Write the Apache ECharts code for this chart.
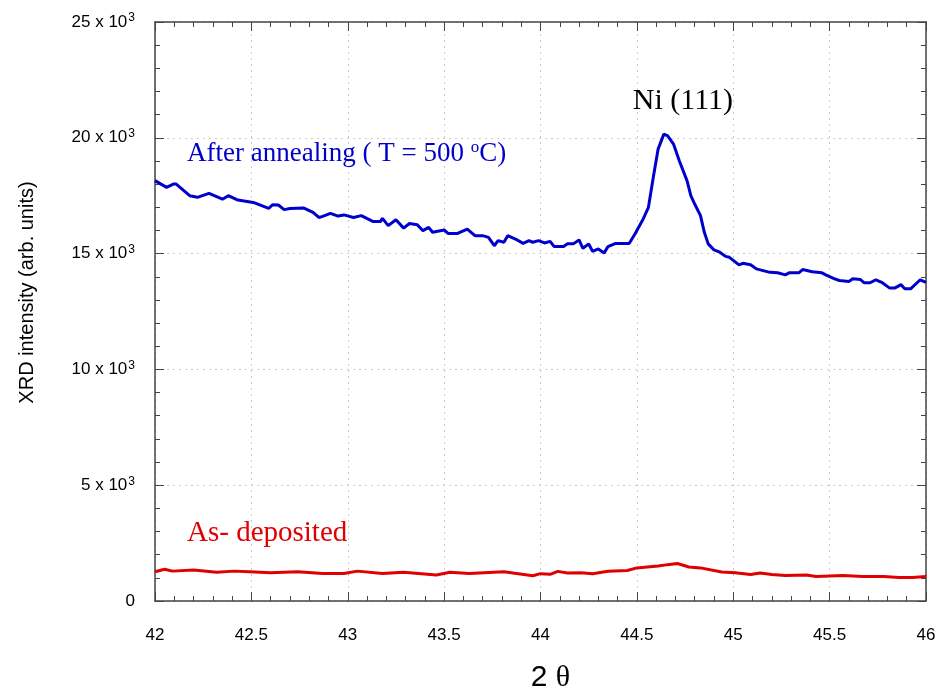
<!DOCTYPE html>
<html>
<head>
<meta charset="utf-8">
<script src="https://cdn.jsdelivr.net/npm/echarts@6/dist/echarts.min.js"></script>
<style>
  html, body { margin: 0; padding: 0; background: #fff; }
  #chart { width: 938px; height: 689px; }
</style>
</head>
<body>
<div id="chart"></div>
<script>
// 退火后 (blue)
const annealTheta = [42.00, 42.06, 42.095, 42.11, 42.18, 42.22, 42.28, 42.35, 42.38, 42.43, 42.51, 42.59, 42.61, 42.64, 42.67, 42.70, 42.77, 42.82, 42.85, 42.87, 42.91, 42.95, 42.98, 43.03, 43.07, 43.13, 43.17, 43.18, 43.21, 43.25, 43.29, 43.32, 43.36, 43.39, 43.42, 43.44, 43.50, 43.52, 43.57, 43.62, 43.66, 43.70, 43.73, 43.76, 43.78, 43.81, 43.83, 43.87, 43.91, 43.94, 43.96, 43.99, 44.02, 44.05, 44.07, 44.12, 44.14, 44.17, 44.20, 44.22, 44.25, 44.27, 44.30, 44.33, 44.35, 44.39, 44.46, 44.49, 44.53, 44.56, 44.585, 44.61, 44.64, 44.66, 44.69, 44.72, 44.76, 44.78, 44.80, 44.83, 44.85, 44.87, 44.90, 44.93, 44.96, 44.98, 45.03, 45.05, 45.09, 45.12, 45.19, 45.23, 45.27, 45.29, 45.34, 45.36, 45.41, 45.46, 45.48, 45.52, 45.55, 45.60, 45.62, 45.66, 45.68, 45.71, 45.74, 45.77, 45.81, 45.84, 45.87, 45.89, 45.92, 45.97, 46.00]
const annealCounts = [18150, 17860, 18000, 18000, 17500, 17430, 17600, 17350, 17500, 17310, 17210, 16950, 17110, 17100, 16900, 16950, 16970, 16780, 16560, 16610, 16740, 16620, 16670, 16560, 16640, 16390, 16390, 16520, 16210, 16460, 16100, 16300, 16250, 15990, 16130, 15920, 16020, 15870, 15870, 16060, 15775, 15775, 15700, 15340, 15560, 15490, 15775, 15630, 15440, 15560, 15490, 15560, 15460, 15530, 15310, 15310, 15420, 15420, 15590, 15230, 15420, 15100, 15200, 15030, 15300, 15440, 15440, 15850, 16450, 17000, 18290, 19510, 20160, 20080, 19730, 19010, 18150, 17500, 17140, 16640, 15920, 15420, 15160, 15060, 14880, 14840, 14510, 14580, 14520, 14340, 14190, 14170, 14080, 14170, 14170, 14310, 14220, 14170, 14080, 13930, 13840, 13800, 13910, 13880, 13740, 13740, 13870, 13760, 13520, 13520, 13660, 13480, 13480, 13870, 13760]

// 沉积态 (red)
const depTheta = [42.00, 42.05, 42.09, 42.20, 42.32, 42.41, 42.49, 42.60, 42.74, 42.87, 42.98, 43.05, 43.18, 43.29, 43.46, 43.53, 43.63, 43.81, 43.96, 44.00, 44.05, 44.09, 44.14, 44.21, 44.27, 44.35, 44.45, 44.50, 44.61, 44.66, 44.71, 44.77, 44.83, 44.94, 45.01, 45.09, 45.14, 45.20, 45.27, 45.38, 45.43, 45.57, 45.67, 45.78, 45.86, 45.93, 46.00]
const depCounts = [1260, 1370, 1290, 1340, 1240, 1290, 1260, 1220, 1260, 1190, 1190, 1290, 1190, 1240, 1120, 1240, 1190, 1260, 1090, 1180, 1150, 1280, 1210, 1220, 1180, 1280, 1320, 1430, 1510, 1570, 1620, 1470, 1430, 1250, 1220, 1140, 1210, 1140, 1100, 1120, 1060, 1100, 1060, 1060, 1010, 1010, 1060]

const xMin = 42, xMax = 46, xStep = 0.5
const yMin = 0, yMax = 25000, yStep = 5000

const zip = (xs, ys) => xs.map((x, i) => [x, ys[i]])

const SANS = 'Liberation Sans'
const SERIF = 'Liberation Serif'
const AXIS_COLOR = '#444'

const baseAxis = {
  axisLine: { show: true, onZero: false, lineStyle: { color: AXIS_COLOR, width: 1.5 } },
  axisTick: { show: true, inside: true, length: 9, lineStyle: { color: AXIS_COLOR } },
  minorTick: { show: true, splitNumber: 5, length: 5, lineStyle: { color: AXIS_COLOR } },
}

const chart = echarts.init(document.getElementById('chart'))

const option = {
  animation: false,
  backgroundColor: '#fff',
  grid: { left: 155, right: 12, top: 22, bottom: 88, containLabel: false, outerBoundsMode: 'none' },
  xAxis: [
    {
      ...baseAxis,
      type: 'value',
      min: xMin, max: xMax, interval: xStep,
      name: '{a|2 }{b|θ}',
      nameLocation: 'middle',
      nameGap: 62,
      nameTextStyle: {
        padding: [0, 0, 0, 20],
        rich: {
          a: { fontFamily: SANS, fontSize: 30, color: '#000' },
          b: { fontFamily: SERIF, fontSize: 30, color: '#000' },
        },
      },
      axisLabel: { fontFamily: SANS, fontSize: 17, color: '#000', margin: 26 },
      splitLine: { show: true, lineStyle: { type: [2, 4], color: '#ccc' } },
    },
    {
      ...baseAxis,
      type: 'value',
      position: 'top',
      min: xMin, max: xMax, interval: xStep,
      axisLabel: { show: false },
      splitLine: { show: false },
    },
  ],
  yAxis: [
    {
      ...baseAxis,
      type: 'value',
      min: yMin, max: yMax, interval: yStep,
      name: 'XRD intensity (arb. units)',
      nameLocation: 'middle',
      nameGap: 118,
      nameTextStyle: { fontFamily: SANS, fontSize: 20, color: '#000', padding: [0, 0, 0, 38] },
      axisLabel: {
        margin: 20,
        formatter: (v) => v === 0 ? '{a|0}' : `{a|${v / 1000} x 10}{s|3}`,
        rich: {
          a: { fontFamily: SANS, fontSize: 17, color: '#000', lineHeight: 20 },
          s: { fontFamily: SANS, fontSize: 12, color: '#000', verticalAlign: 'top', lineHeight: 20, padding: [0, 0, 10, 1] },
        },
      },
      splitLine: { show: true, lineStyle: { type: [2, 4], color: '#ccc' } },
    },
    {
      ...baseAxis,
      type: 'value',
      position: 'right',
      min: yMin, max: yMax, interval: yStep,
      axisLabel: { show: false },
      splitLine: { show: false },
    },
  ],
  series: [
    {
      name: 'After annealing',
      type: 'line',
      data: zip(annealTheta, annealCounts),
      showSymbol: false,
      lineStyle: { color: '#0000cc', width: 3 },
      itemStyle: { color: '#0000cc' },
      markPoint: {
        symbolSize: 0,
        silent: true,
        data: [
          {
            coord: [42.166, 19310],
            label: {
              show: true,
              position: 'right',
              distance: 0,
              formatter: '{t|After annealing ( T = 500 }{s|o}{t|C)}',
              rich: {
                t: { fontFamily: SERIF, fontSize: 27, color: '#0000cc', lineHeight: 30 },
                s: { fontFamily: SERIF, fontSize: 17, color: '#0000cc', verticalAlign: 'top', lineHeight: 30, padding: [0, 0, 12, 0] },
              },
            },
          },
          {
            coord: [44.739, 21590],
            label: {
              show: true,
              position: 'inside',
              formatter: 'Ni (111)',
              fontFamily: SERIF, fontSize: 30, color: '#000',
            },
          },
        ],
      },
    },
    {
      name: 'As- deposited',
      type: 'line',
      data: zip(depTheta, depCounts),
      showSymbol: false,
      lineStyle: { color: '#e00000', width: 3 },
      itemStyle: { color: '#e00000' },
      markPoint: {
        symbolSize: 0,
        silent: true,
        data: [
          {
            coord: [42.166, 2930],
            label: {
              show: true,
              position: 'right',
              distance: 0,
              formatter: 'As- deposited',
              fontFamily: SERIF, fontSize: 29, color: '#e00000',
            },
          },
        ],
      },
    },
  ],
}

chart.setOption(option)
</script>
</body>
</html>
